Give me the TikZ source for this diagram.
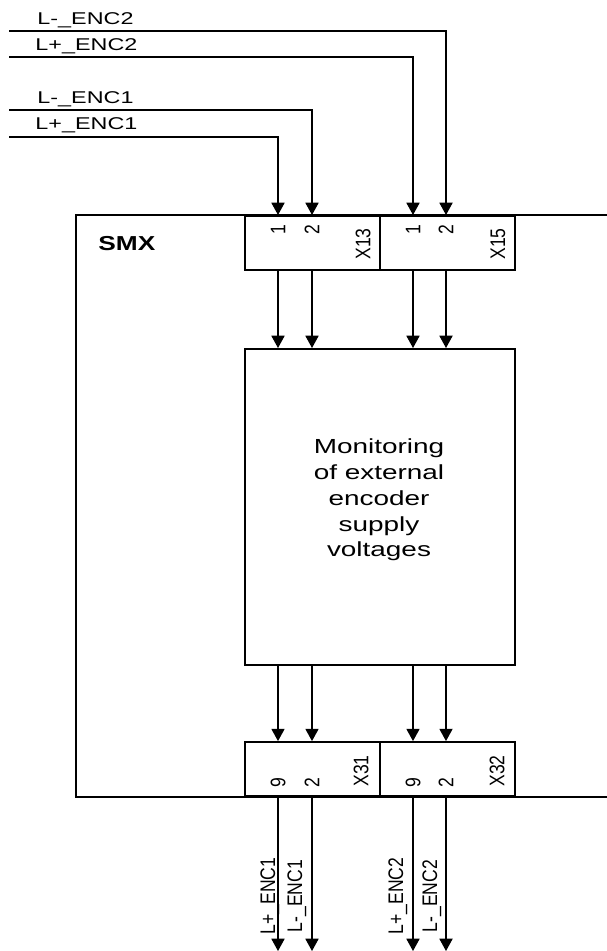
\documentclass[tikz,border=0pt]{standalone}
\usepackage{fontspec}
\setmainfont{Liberation Sans}
\usetikzlibrary{arrows.meta,positioning}

\tikzset{
  frameline/.style={line width=1.1pt},
  wire/.style={line width=0.7pt},
  sig/.style={wire, -{Triangle[length=7pt,width=7.5pt]}},
  termbox/.style={draw, line width=1.1pt, minimum width=2.7cm, minimum height=1.08cm, inner sep=0pt},
  monbox/.style={draw, line width=1.1pt, minimum width=5.4cm, minimum height=6.32cm, inner sep=0pt},
  pinno/.style={rotate=90, yscale=1.2, font=\fontsize{10}{11}\selectfont, inner sep=0pt},
  outlbl/.style={rotate=90, yscale=1.2, anchor=base, font=\fontsize{10}{11}\selectfont, inner sep=0pt},
  inlbl/.style={anchor=base west, xscale=1.37, font=\fontsize{9.7}{11}\selectfont, inner sep=0pt}
}

\begin{document}
\begin{tikzpicture}[x=0.02cm, y=-0.02cm]
  \useasboundingbox (0,0) rectangle (607,951);

  % SMX module outline (open to the right)
  \draw[frameline] (607,215) -- (76,215) -- (76,797) -- (607,797);
  \node[anchor=base west, xscale=1.3, font=\fontsize{11.5}{13}\selectfont\bfseries, inner sep=0pt] (smx) at (98,250) {SMX};

  % terminal blocks and monitoring block
  \node[termbox, anchor=north west] (x13) at (244,215) {};
  \node[termbox, anchor=north west] (x15) at (379,215) {};
  \node[monbox, anchor=north west] (mon) at (244,348) {};
  \node[termbox, anchor=south west] (x31) at (244,797) {};
  \node[termbox, anchor=south west] (x32) at (379,797) {};

  \node[align=center, xscale=1.37, font=\fontsize{11.6}{14.7}\selectfont, inner sep=0pt] (montxt) at (379,500)
    {Monitoring\\of external\\encoder\\supply\\voltages};

  % pin labels
  \node[pinno] (x13a) at (278,230) {1};
  \node[pinno] (x13b) at (312,230) {2};
  \node[pinno] (x13n) at (363,244) {X13};
  \node[pinno] (x15a) at (413,230) {1};
  \node[pinno] (x15b) at (446,230) {2};
  \node[pinno] (x15n) at (498,244) {X15};
  \node[pinno] (x31a) at (278,783) {9};
  \node[pinno] (x31b) at (312,783) {2};
  \node[pinno] (x31n) at (361,771) {X31};
  \node[pinno] (x32a) at (413,783) {9};
  \node[pinno] (x32b) at (446,783) {2};
  \node[pinno] (x32n) at (497,771) {X32};

  % wire x positions and free ends
  \coordinate (pA) at (278,0);
  \coordinate (pB) at (312,0);
  \coordinate (pC) at (413,0);
  \coordinate (pD) at (446,0);
  \coordinate (inA) at (9,137);
  \coordinate (inB) at (9,110);
  \coordinate (inC) at (9,57);
  \coordinate (inD) at (9,31);

  % incoming supply lines
  \node[inlbl] (lblD) at (37,24) {L-\_ENC2};
  \node[inlbl] (lblC) at (35,50) {L+\_ENC2};
  \node[inlbl] (lblB) at (37,103) {L-\_ENC1};
  \node[inlbl] (lblA) at (35,129) {L+\_ENC1};
  \draw[sig] (inA) -| (x13.north -| pA);
  \draw[sig] (inB) -| (x13.north -| pB);
  \draw[sig] (inC) -| (x15.north -| pC);
  \draw[sig] (inD) -| (x15.north -| pD);

  % through the module
  \foreach \p/\u/\l in {pA/x13/x31, pB/x13/x31, pC/x15/x32, pD/x15/x32} {
    \draw[sig] (\u.south -| \p) -- (mon.north -| \p);
    \draw[sig] (mon.south -| \p) -- (\l.north -| \p);
    \draw[sig] (\l.south -| \p) -- (\p |- 0,951);
  }

  % outgoing labels
  \node[outlbl] (outA) at (275,896) {L+\_ENC1};
  \node[outlbl] (outB) at (302,896) {L-\_ENC1};
  \node[outlbl] (outC) at (403,896) {L+\_ENC2};
  \node[outlbl] (outD) at (437,896) {L-\_ENC2};
\end{tikzpicture}
\end{document}
